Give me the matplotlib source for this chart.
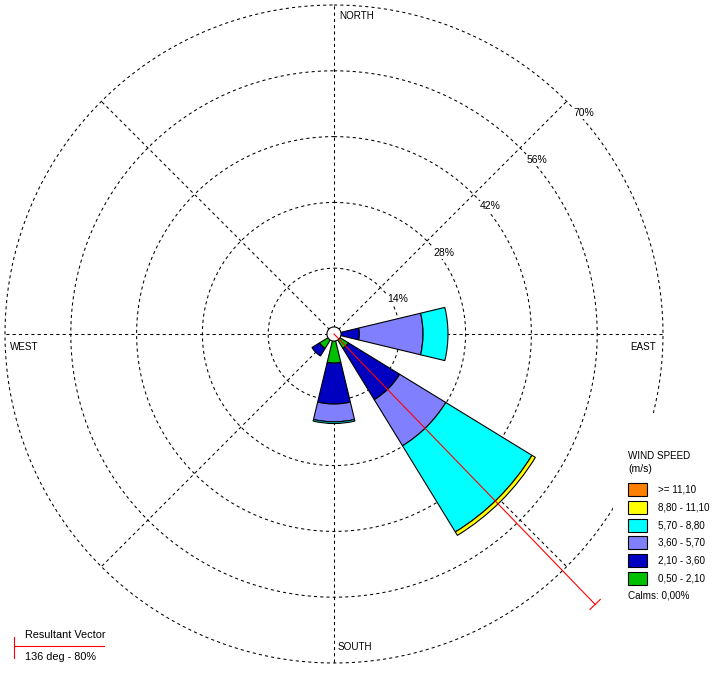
import numpy as np
import matplotlib
matplotlib.use("Agg")
import matplotlib.pyplot as plt
from matplotlib.patches import Rectangle

# frequencies (%) per direction, one list per speed class
directions = [90.0, 135.0, 180.0, 225.0]          # E, SE, S, SW
speed_labels = [">= 11,10", "8,80 - 11,10", "5,70 - 8,80",
                "3,60 - 5,70", "2,10 - 3,60", "0,50 - 2,10"]
speed_colors = ["#FF8000", "#FFFF00", "#00FFFF", "#8080FF", "#0000C0", "#00C000"]
freq_050_210 = [0.0, 3.6, 6.2, 3.6]
freq_210_360 = [5.4, 12.8, 8.7, 1.9]
freq_360_570 = [13.55, 11.5, 3.8, 0.0]
freq_570_880 = [5.3, 21.5, 0.35, 0.0]
freq_880_1110 = [0.0, 0.85, 0.0, 0.0]
freq_ge_1110 = [0.0, 0.0, 0.0, 0.0]

ring_values = [14, 28, 42, 56, 70]
calm_radius = 1.5
resultant_dir = 136
resultant_pct = 80

W, H = 714, 673
fig = plt.figure(figsize=(W / 100, H / 100), dpi=100)
plt.rcParams["font.family"] = ["Liberation Sans", "DejaVu Sans"]

# polar axes: centre at (334, 334) px, 70% ring radius 329 px
cx, cy, R = 334, 334, 329
ax = fig.add_axes([(cx - R) / W, (H - cy - R) / H, 2 * R / W, 2 * R / H],
                  projection="polar")
ax.set_theta_zero_location("N")
ax.set_theta_direction(-1)
ax.set_ylim(0, ring_values[-1])
ax.grid(False)
ax.spines["polar"].set_visible(False)
ax.set_xticks([])
ax.set_yticks([])
ax.patch.set_visible(False)

dash = (0, (3, 3))
lw_grid = 0.75
t = np.linspace(0, 2 * np.pi, 720)
for rv in ring_values:
    ax.plot(t, np.full_like(t, rv), color="black", lw=lw_grid, ls=dash,
            zorder=1, clip_on=False)
for a in range(0, 360, 45):
    ax.plot([np.radians(a)] * 2, [0, ring_values[-1]], color="black",
            lw=lw_grid, ls=dash, zorder=1, clip_on=False)

# stacked sectors, slow speeds inside
stack = [freq_050_210, freq_210_360, freq_360_570, freq_570_880,
         freq_880_1110, freq_ge_1110]
colors_in_order = speed_colors[::-1]
theta = np.radians(directions)
bottom = np.zeros(len(directions))
for vals, col in zip(stack, colors_in_order):
    vals = np.array(vals)
    mask = vals > 0
    ax.bar(theta[mask], vals[mask], width=np.radians(27), bottom=bottom[mask],
           color=col, edgecolor="black", linewidth=0.8, zorder=3)
    bottom += vals

# calm circle
ax.fill(t, np.full_like(t, calm_radius), facecolor="white", edgecolor="black",
        lw=0.8, zorder=5)

# resultant vector
rv_t = np.radians(resultant_dir)
ax.plot([rv_t, rv_t], [0, resultant_pct], color="red", lw=0.8, zorder=6,
        clip_on=False)
d = np.radians(1.1)
ax.plot([rv_t - d, rv_t + d], [resultant_pct, resultant_pct], color="red",
        lw=0.8, zorder=6, clip_on=False)

# ring labels along NE line (white box hides the dashes behind)
for rv in ring_values:
    ax.annotate(f"{rv}%", xy=(np.radians(45), rv), xytext=(17, -12),
                textcoords="offset pixels", ha="center", va="center",
                fontsize=7.5, annotation_clip=False, zorder=7,
                bbox=dict(facecolor="white", edgecolor="none", pad=0.5))

# overlay in pixel coordinates for labels and legends
ov = fig.add_axes([0, 0, 1, 1])
ov.set_xlim(0, W)
ov.set_ylim(H, 0)
ov.axis("off")
ov.patch.set_visible(False)

fs = 7.1
ov.text(339, 16, "NORTH", fontsize=fs, va="center", ha="left")
ov.text(338, 647, "SOUTH", fontsize=fs, va="center", ha="left")
ov.text(10, 347, "WEST", fontsize=fs, va="center", ha="left")
ov.text(630, 347, "EAST", fontsize=fs, va="center", ha="left")

# legend block on a white background
ov.add_patch(Rectangle((613, 413), W - 613, 200, facecolor="white",
                       edgecolor="none", zorder=0))
ov.text(628, 456, "WIND SPEED", fontsize=fs, va="center", ha="left")
ov.text(628, 469, "(m/s)", fontsize=7.6, va="center", ha="left")
for i, (lab, col) in enumerate(zip(speed_labels, speed_colors)):
    y0 = 483 + i * 17.8
    ov.add_patch(Rectangle((628, y0), 19, 13, facecolor=col, edgecolor="black",
                           lw=0.8))
    ov.text(658, y0 + 6.5, lab, fontsize=fs, va="center", ha="left")
ov.text(628, 596, "Calms: 0,00%", fontsize=fs, va="center", ha="left")

ov.plot([14, 104], [646, 646], color="red", lw=0.8)
ov.plot([14, 14], [637, 658], color="red", lw=0.8)
ov.text(25, 635, "Resultant Vector", fontsize=7.8, va="center", ha="left")
ov.text(25, 657, f"{resultant_dir} deg - {resultant_pct}%", fontsize=7.8,
        va="center", ha="left")

fig.savefig("out.png", dpi=100, facecolor="white")
